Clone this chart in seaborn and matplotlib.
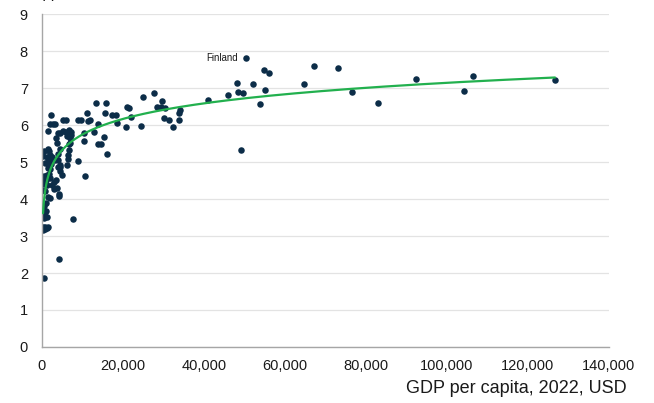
import matplotlib
matplotlib.use("Agg")
import matplotlib.pyplot as plt
import matplotlib.ticker as mticker
import seaborn as sns
import pandas as pd
import numpy as np

# GDP per capita (USD) and happiness score
gdp = [
    50500, 67200, 54900, 56100, 73100, 48300, 52200, 64700, 48500, 49700,
    55100, 41100, 46000, 53900, 76500, 83000, 92300, 104300, 106400, 126700,
    49100,
    15900, 15500, 15400, 16000, 14700, 17400, 18400, 18600, 20800, 20900,
    21400, 22000, 24400, 24900, 27700, 28400, 29600, 29400, 30500, 30200,
    31400, 32300, 33900, 33900, 34100, 13300,
    2300, 11200, 2000, 2800, 3300, 5300, 5900, 9000, 9600, 11900,
    11400, 13800, 1600, 4000, 4400, 5100, 5900, 6600, 7100, 3500,
    6200, 7000, 7200, 10400, 12800, 10300, 3700, 7000, 6800, 13900,
    4400, 6700, 6500, 500, 1700, 1400, 9000, 200, 1200, 2000,
    2400, 4000, 3200, 4000, 6500, 1600, 2000, 700, 1400, 2200,
    3900, 4400, 4500, 1600, 2000, 6100, 1700, 1200, 600, 4400,
    10700, 2000, 300, 900, 4900, 600, 1200, 3000, 3600, 2500,
    100, 700, 3000, 3700, 4200, 4300, 1400, 2000, 900, 600,
    1000, 500, 1200, 500, 700, 7800, 700, 1400, 300, 700,
    1300, 300, 4200, 500,
]
happiness = [
    7.80, 7.59, 7.48, 7.41, 7.54, 7.13, 7.11, 7.10, 6.90, 6.87,
    6.96, 6.67, 6.81, 6.58, 6.89, 6.59, 7.25, 6.92, 7.33, 7.23,
    5.32,
    6.59, 6.33, 5.67, 5.22, 5.50, 6.27, 6.27, 6.06, 5.94, 6.50,
    6.47, 6.21, 5.97, 6.77, 6.86, 6.48, 6.65, 6.48, 6.47, 6.18,
    6.14, 5.95, 6.14, 6.32, 6.41, 6.61,
    6.27, 6.32, 6.03, 6.02, 6.02, 6.14, 6.14, 6.14, 6.15, 6.15,
    6.10, 6.04, 5.84, 5.78, 5.78, 5.85, 5.82, 5.86, 5.81, 5.66,
    5.70, 5.64, 5.73, 5.79, 5.80, 5.58, 5.52, 5.52, 5.48, 5.49,
    5.35, 5.32, 5.19, 5.30, 5.30, 5.34, 5.04, 5.16, 5.14, 5.19,
    5.14, 5.22, 5.05, 5.06, 5.09, 5.04, 5.04, 4.98, 4.95, 4.96,
    4.86, 4.87, 4.93, 4.83, 4.81, 4.93, 4.69, 4.65, 4.62, 4.75,
    4.62, 4.56, 4.53, 4.51, 4.65, 4.41, 4.38, 4.47, 4.51, 4.38,
    4.24, 4.22, 4.27, 4.31, 4.14, 4.08, 4.05, 4.04, 3.88, 3.82,
    3.68, 3.61, 3.52, 3.49, 3.55, 3.46, 3.24, 3.24, 3.25, 3.18,
    3.21, 3.16, 2.39, 1.86,
]
label_country = "Finland"
label_index = 0

df = pd.DataFrame({"gdp": gdp, "happiness": happiness})

# logarithmic trend line, fitted to the points
slope, intercept = np.polyfit(np.log(df["gdp"]), df["happiness"], 1)
trend_x = np.geomspace(df["gdp"].min() * 3, df["gdp"].max(), 300)
trend = pd.DataFrame({"gdp": trend_x, "happiness": slope * np.log(trend_x) + intercept})

sns.set_style("white")
plt.rcParams["font.family"] = ["Liberation Sans", "DejaVu Sans"]

fig = plt.figure(figsize=(6.54, 4.03), dpi=100)
ax = fig.add_axes([0.064, 0.139, 0.867, 0.826])

sns.scatterplot(data=df, x="gdp", y="happiness", s=22, color="#0c2d48",
                linewidth=0, ax=ax, zorder=2)
sns.lineplot(data=trend, x="gdp", y="happiness", color="#22b04e",
             linewidth=1.6, ax=ax, zorder=3)

ax.set_xlim(0, 140000)
ax.set_ylim(0, 9)
ax.set_xticks(range(0, 140001, 20000))
ax.set_yticks(range(0, 10))
ax.xaxis.set_major_formatter(mticker.FuncFormatter(lambda v, p: f"{int(v):,}"))
ax.grid(axis="y", color="#e3e3e3", linewidth=0.9)
ax.set_axisbelow(True)
for s in ["top", "right"]:
    ax.spines[s].set_visible(False)
for s in ["left", "bottom"]:
    ax.spines[s].set_color("#a6a6a6")
    ax.spines[s].set_linewidth(1.0)
ax.tick_params(axis="both", which="major", length=4, width=1, color="#a6a6a6",
               labelsize=10.5, labelcolor="#1a1a1a", direction="out")
ax.tick_params(axis="x", pad=5)
ax.tick_params(axis="y", pad=6)
ax.set_xlabel("")
ax.set_ylabel("")

ax.annotate(label_country, (gdp[label_index], happiness[label_index]),
            xytext=(-6, 0), textcoords="offset points", ha="right", va="center",
            fontsize=7, color="#1a1a1a")

fig.text(0.958, 0.025, "GDP per capita, 2022, USD", ha="right", va="baseline",
         fontsize=13, color="#1a1a1a")
fig.text(0.035, 1.004, "Happiness score, 2023", ha="left", va="baseline",
         fontsize=11, color="#1a1a1a")

fig.savefig("out.png", dpi=100)
